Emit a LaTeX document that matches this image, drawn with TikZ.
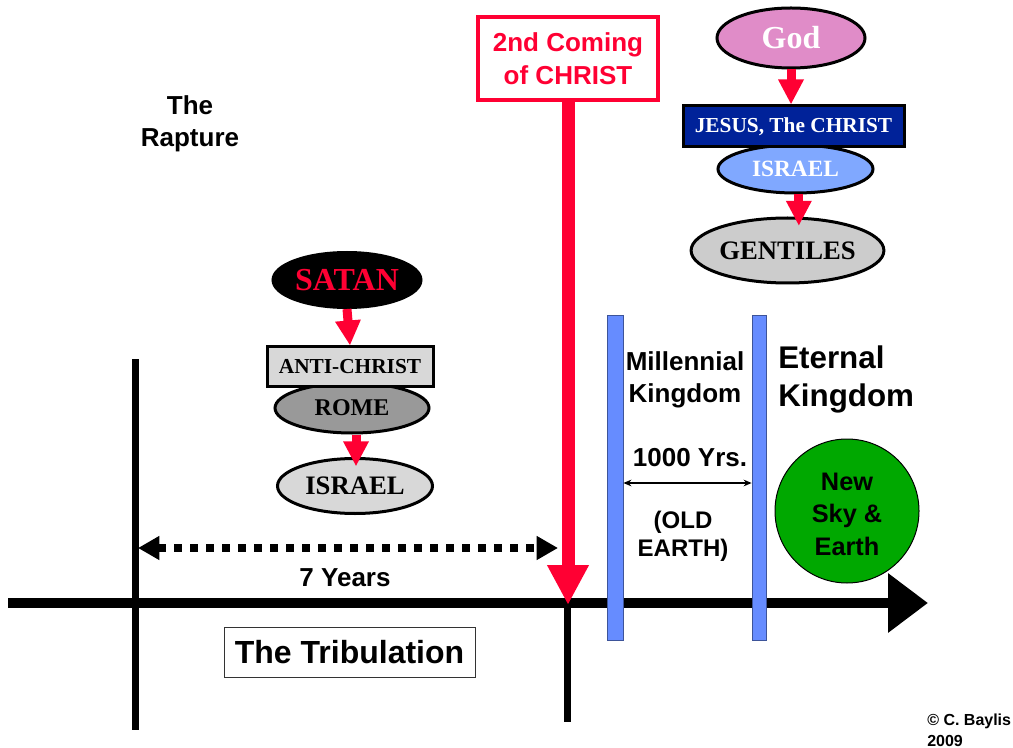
\documentclass[tikz,border=0pt]{standalone}
\usepackage{fontspec}
\setmainfont{Liberation Sans}
\newfontfamily\tnr{Liberation Serif}
\usetikzlibrary{shapes.geometric,arrows.meta}
\definecolor{cred}{RGB}{255,0,51}
\definecolor{cpink}{RGB}{224,140,200}
\definecolor{cnavy}{RGB}{0,34,153}
\definecolor{clblue}{RGB}{128,168,255}
\definecolor{cbar}{RGB}{102,140,255}
\definecolor{cgreen}{RGB}{0,168,0}
\definecolor{cgrey}{RGB}{204,204,204}
\definecolor{cmid}{RGB}{153,153,153}
\definecolor{clight}{RGB}{216,216,216}
\begin{document}
\begin{tikzpicture}[x=0.75pt,y=-0.75pt,
  ell/.style={ellipse,draw=black,line width=2.25pt,inner sep=0pt},
  sq/.style={rectangle,draw=black,line width=2.25pt,inner sep=0pt},
  redarr/.style={draw=cred,line width=6.75pt,-{Triangle[length=18.75pt,width=18pt]}},
  bigred/.style={draw=cred,line width=9.75pt,-{Triangle[length=30pt,width=29.25pt]}},
  blackline/.style={line width=5.25pt},
  bar/.style={rectangle,fill=cbar,draw=cbar!60!black,line width=0.6pt,inner sep=0pt,minimum height=243.75pt},
  lbl/.style={inner sep=0pt,align=center,font=\bfseries\fontsize{19.5}{24}\selectfont},
  serif/.style={font=\tnr\bfseries\fontsize{#1}{#1}\selectfont}
]
\useasboundingbox (0,0) rectangle (1013,748);
% timeline
\coordinate (tl0) at (8,603);
\coordinate (tl1) at (928,603);
\draw[line width=7.5pt,-{Triangle[length=30pt,width=42.75pt]}] (tl0) -- (tl1);
% vertical lines
\coordinate (v1a) at (135,359);
\coordinate (v1b) at (135,730);
\coordinate (v2a) at (567,603);
\coordinate (v2b) at (567,722);
\draw[blackline] (v1a) -- (v1b);
\draw[blackline] (v2a) -- (v2b);
% 7 years dotted arrow
\coordinate (d0) at (138,548);
\coordinate (d1) at (558,548);
\draw[line width=6pt,dash pattern=on 6pt off 6pt,{Triangle[length=16pt,width=17pt]}-{Triangle[length=16pt,width=17pt]}] (d0) -- (d1);
\node[lbl] (seven) at (345,578) {7 Years};
\node[draw=black!80,line width=0.75pt,minimum width=188.25pt,minimum height=37.5pt,inner sep=0pt,font=\bfseries\fontsize{24}{28}\selectfont] (trib) at (349.5,652) {The Tribulation};
% Rapture
\node[lbl] (rapture) at (190,124) {The\\Rapture};
% 2nd coming
\node[rectangle,draw=cred,line width=3pt,minimum width=135pt,minimum height=62.25pt,inner sep=0pt,text=cred,align=center,font=\bfseries\fontsize{19.5}{24.75}\selectfont] (coming) at (568,58.5) {2nd Coming\\of CHRIST};
\coordinate (rtip) at (568,605);
\draw[bigred] (coming.south) -- (rtip);
% bars
\node[bar,minimum width=12pt] (b1) at (615,477.5) {};
\node[bar,minimum width=10.5pt] (b2) at (759,477.5) {};
\node[lbl] (mill) at (685,380) {Millennial\\Kingdom};
\node[inner sep=0pt,align=left,font=\bfseries\fontsize{23.5}{28.5}\selectfont,anchor=west] (eternal) at (778,379) {Eternal\\Kingdom};
\node[lbl] (yrs) at (690,458) {1000 Yrs.};
\draw[line width=1.1pt,{Stealth[length=6pt,width=5pt]}-{Stealth[length=6pt,width=5pt]}] (b1.east |- 0,483) -- (b2.west |- 0,483);
\node[inner sep=0pt,align=center,font=\bfseries\fontsize{18}{21}\selectfont] (old) at (683,536) {(OLD\\EARTH)};
\node[circle,fill=cgreen,draw=black,line width=0.75pt,minimum size=108pt,inner sep=0pt,align=center,font=\bfseries\fontsize{19}{24.4}\selectfont] (newe) at (847,511) {};
\node[inner sep=0pt,align=center,font=\bfseries\fontsize{19}{24.4}\selectfont] (newt) at (847,514) {New\\Sky \&\\Earth};
% Satan chain
\node[ell,fill=black,minimum width=111pt,minimum height=41.25pt,text=cred,serif=24] (satan) at (347,280) {SATAN};
\node[ell,fill=cmid,minimum width=115.5pt,minimum height=37.5pt,serif=18] (rome) at (352,408) {ROME};
\node[sq,fill=clight,minimum width=124.5pt,minimum height=29.25pt,serif=16] (anti) at (350,366.5) {ANTI-CHRIST};
\node[ell,fill=clight,minimum width=116.25pt,minimum height=41.25pt,serif=20] (isrl) at (355,486) {ISRAEL};
\draw[redarr] (satan.south) -- (anti.north);
\draw[redarr,shorten >=-7pt] ([xshift=3pt]rome.south) -- ([xshift=3pt]rome.south |- isrl.north);
% God chain
\node[ell,fill=cpink,minimum width=111pt,minimum height=45pt,text=white,serif=24] (god) at (791,38) {God};
\node[ell,fill=clblue,minimum width=116.25pt,minimum height=36pt,text=white,serif=17.5] (isrr) at (795.5,169) {ISRAEL};
\node[sq,fill=cnavy,minimum width=165.75pt,minimum height=30.75pt,text=white,serif=16] (jesus) at (793.5,126.5) {JESUS, The CHRIST};
\node[ell,fill=cgrey,minimum width=114.75pt,minimum height=48.75pt,serif=20] (gent) at (787.5,250.5) {GENTILES};
\draw[redarr] (god.south) -- (god.south |- jesus.north);
\draw[redarr,shorten >=-7pt] ([xshift=2.5pt]isrr.south) -- ([xshift=2.5pt]isrr.south |- gent.north);
% copyright
\node[inner sep=0pt,align=left,anchor=west,font=\bfseries\fontsize{12}{15.75}\selectfont] (copy) at (927,730) {\textcopyright{} C. Baylis\\2009};
\end{tikzpicture}
\end{document}
